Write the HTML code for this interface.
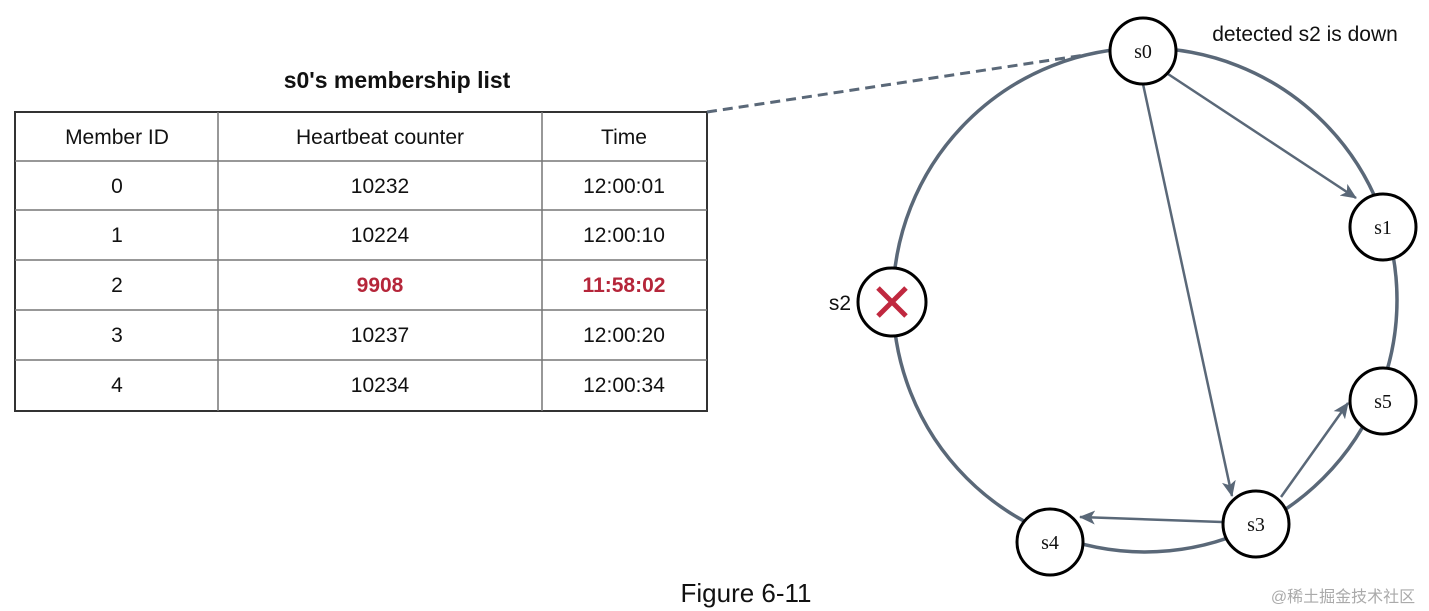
<!DOCTYPE html>
<html><head><meta charset="utf-8"><style>
html,body{margin:0;padding:0;background:#fff;width:1429px;height:611px;overflow:hidden}
svg{display:block}
.t{font-family:"Liberation Sans",Arial,sans-serif;font-size:21px;fill:#111}
.n{font-family:"Liberation Serif",serif;font-size:20px;fill:#111}
</style></head><body>
<svg width="1429" height="611" viewBox="0 0 1429 611" xmlns="http://www.w3.org/2000/svg">
<defs>
<marker id="ah" markerWidth="16" markerHeight="14" refX="15" refY="7" orient="auto" markerUnits="userSpaceOnUse" viewBox="0 0 16 14">
<path d="M0,0 L16,7 L0,14 L4,7 Z" fill="#5a6878"/>
</marker>
</defs>
<text x="397" y="88" text-anchor="middle" style="font-family:'Liberation Sans',Arial,sans-serif;font-size:23px;font-weight:bold;fill:#111">s0's membership list</text>
<rect x="15" y="112" width="692" height="299" fill="none" stroke="#333" stroke-width="2"/>
<g stroke="#777" stroke-width="1.5">
<line x1="15" y1="161" x2="707" y2="161"/>
<line x1="15" y1="210" x2="707" y2="210"/>
<line x1="15" y1="260" x2="707" y2="260"/>
<line x1="15" y1="310" x2="707" y2="310"/>
<line x1="15" y1="360" x2="707" y2="360"/>
<line x1="218" y1="112" x2="218" y2="411"/>
<line x1="542" y1="112" x2="542" y2="411"/>
</g>
<g class="t" text-anchor="middle">
<text x="117" y="144">Member ID</text><text x="380" y="144">Heartbeat counter</text><text x="624" y="144">Time</text>
<text x="117" y="193">0</text><text x="380" y="193">10232</text><text x="624" y="193">12:00:01</text>
<text x="117" y="242">1</text><text x="380" y="242">10224</text><text x="624" y="242">12:00:10</text>
<text x="117" y="292">2</text><text x="380" y="292" style="fill:#b5263a;font-weight:bold">9908</text><text x="624" y="292" style="fill:#b5263a;font-weight:bold">11:58:02</text>
<text x="117" y="342">3</text><text x="380" y="342">10237</text><text x="624" y="342">12:00:20</text>
<text x="117" y="392">4</text><text x="380" y="392">10234</text><text x="624" y="392">12:00:34</text>
</g>
<line x1="707" y1="112" x2="1085" y2="55" stroke="#5a6878" stroke-width="3" stroke-dasharray="10,6"/>
<circle cx="1145" cy="300" r="252" fill="none" stroke="#5a6878" stroke-width="3.5"/>
<g stroke="#5a6878" stroke-width="2.5" fill="none">
<line x1="1168" y1="74" x2="1356" y2="198" marker-end="url(#ah)"/>
<line x1="1143" y1="84" x2="1232" y2="496" marker-end="url(#ah)"/>
<line x1="1222" y1="522" x2="1080" y2="517" marker-end="url(#ah)"/>
<line x1="1281" y1="497" x2="1348" y2="403" marker-end="url(#ah)"/>
</g>
<g fill="#fff" stroke="#000" stroke-width="3">
<circle cx="1143" cy="51" r="33"/>
<circle cx="1383" cy="227" r="33"/>
<circle cx="1383" cy="401" r="33"/>
<circle cx="1256" cy="524" r="33"/>
<circle cx="1050" cy="542" r="33"/>
<circle cx="892" cy="302" r="34"/>
</g>
<g class="n" text-anchor="middle">
<text x="1143" y="58">s0</text>
<text x="1383" y="234">s1</text>
<text x="1383" y="408">s5</text>
<text x="1256" y="531">s3</text>
<text x="1050" y="549">s4</text>
</g>
<g stroke="#c0283f" stroke-width="5" stroke-linecap="butt">
<line x1="878" y1="288" x2="906" y2="316"/>
<line x1="906" y1="288" x2="878" y2="316"/>
</g>
<text x="840" y="310" class="t" text-anchor="middle">s2</text>
<text x="1305" y="41" class="t" text-anchor="middle">detected s2 is down</text>
<text x="746" y="602" text-anchor="middle" style="font-family:'Liberation Sans',Arial,sans-serif;font-size:26px;fill:#111">Figure 6-11</text>
<text x="1343" y="602" text-anchor="middle" style="font-family:'Liberation Sans','Noto Sans CJK SC',sans-serif;font-size:16px;fill:#aaa">@稀土掘金技术社区</text>
</svg>
</body></html>
